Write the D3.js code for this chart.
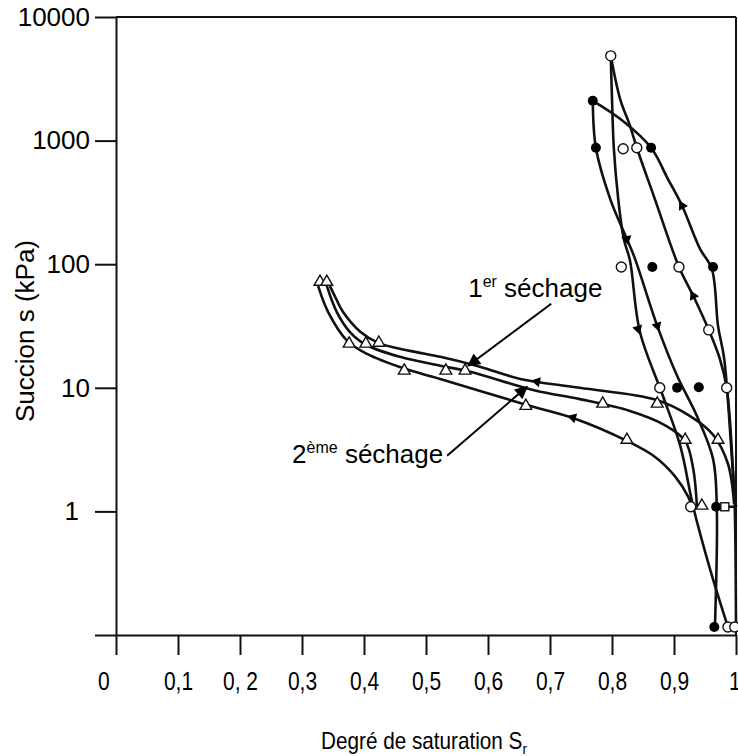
<!DOCTYPE html>
<html>
<head>
<meta charset="utf-8">
<script src="https://cdn.jsdelivr.net/npm/d3@7"></script>
<style>
  body { margin: 0; background: #fff; }
  svg text { font-family: "Liberation Sans", Arial, sans-serif; fill: #000; }
</style>
</head>
<body>
<svg id="chart" width="738" height="756"></svg>
<script>

// tick values / labels
var xTicks = [0, 0.1, 0.2, 0.3, 0.4, 0.5, 0.6, 0.7, 0.8, 0.9, 1];
var xTickLabels = ["0", "0,1", "0, 2", "0,3", "0,4", "0,5", "0,6", "0,7", "0,8", "0,9", "1"];
var yTicks = [10000, 1000, 100, 10, 1, 0.1];
var yTickLabels = ["10000", "1000", "100", "10", "1", ""];

// triangle curves (sechage), [Sr, succion kPa]
var curveTop = [[0.345,66.8],[0.355,52.5],[0.366,41.2],[0.394,28.4],[0.423,23.1],[0.474,19.9],[0.523,17.8],
  [0.587,14.8],[0.652,11.8],[0.748,10.0],[0.871,8.0],[0.926,5.9],[0.963,4.17],[0.987,2.43],[0.997,1.15]];
var curveMid = [[0.340,66.8],[0.356,41.2],[0.377,28.4],[0.403,22.3],[0.458,17.8],[0.523,15.1],[0.571,13.5],
  [0.676,9.5],[0.748,8.1],[0.829,6.5],[0.885,5.0],[0.918,3.72],[0.931,2.21],[0.937,1.09]];
var curveLow = [[0.326,66.8],[0.342,41.2],[0.373,24.0],[0.405,18.8],[0.465,14.3],[0.523,11.8],[0.661,7.3],
  [0.737,5.7],[0.824,3.72],[0.869,2.77],[0.902,1.91],[0.923,1.31],[0.929,1.09]];

// circle loops
var openLeft = [[0.798,4850],[0.800,2180],[0.803,860],[0.810,338],[0.819,160],[0.829,107],[0.845,28.4],
  [0.881,8.9],[0.910,3.40],[0.931,1.09],[0.958,0.343],[0.987,0.116]];
var openRight = [[0.798,4850],[0.813,2180],[0.829,1318],[0.840,875],[0.869,338],[0.908,95],[0.931,55.5],
  [0.956,29.4],[0.974,17.1],[0.985,10.0],[0.995,2.21],[0.998,1.09],[1.0,0.116]];
var filledLeft = [[0.769,2100],[0.774,875],[0.797,338],[0.824,160],[0.837,111],[0.873,31.7],[0.905,12.5],
  [0.937,5.9],[0.963,2.66],[0.969,1.09],[0.966,0.116]];
var filledRight = [[0.769,2100],[0.813,1500],[0.863,875],[0.890,491],[0.913,297],[0.942,133],[0.961,91.8],
  [0.971,31.7],[0.981,17.1],[0.995,2.09],[1.0,1.09]];
var linkBottom = [[0.969,1.09],[1.0,1.09]];

// markers
var triPoints = [[0.329,70.6],[0.340,70.6],[0.376,22.3],[0.403,22.3],[0.424,22.7],[0.465,13.5],[0.532,13.5],
  [0.563,13.5],[0.661,7.0],[0.785,7.3],[0.873,7.3],[0.824,3.72],[0.918,3.72],[0.971,3.72],[0.945,1.09]];
var openPoints = [[0.798,4850],[0.818,860],[0.840,875],[0.815,95],[0.908,95],[0.956,29.4],[0.877,10.0],
  [0.985,10.0],[0.927,1.09],[0.987,0.116],[0.998,0.116]];
var filledPoints = [[0.769,2100],[0.774,875],[0.863,875],[0.865,95],[0.963,95],[0.905,10.0],[0.940,10.1],
  [0.968,1.09],[0.965,0.116]];
var squarePoints = [[0.982,1.09]];

// small direction arrows [Sr, s, Sr toward, s toward]
var dirArrows = [[0.679,11.2,0.65,12.0],[0.737,5.75,0.70,6.5],[0.913,297,0.89,491],[0.931,55.5,0.908,95],
  [0.842,30,0.860,15],[0.873,31.7,0.89,17],[0.824,160,0.83,110]];

// annotations: text anchor, arrow start, arrow tip
var annot1 = {text: [0.568, 54.5], from: [0.702, 47.8], to: [0.568, 15.1]};
var annot2 = {text: [0.284, 2.47], from: [0.534, 2.82], to: [0.663, 10.2]};


function drawChart(){

  var svg = d3.select("#chart");

  var x = d3.scaleLinear().domain([0, 1]).range([116, 736]);
  var y = d3.scaleLog().domain([0.1, 10000]).range([635, 17]);

  svg.append("defs").append("marker")
      .attr("id", "head")
      .attr("viewBox", "0 0 10 10")
      .attr("refX", 9).attr("refY", 5)
      .attr("markerUnits", "userSpaceOnUse")
      .attr("markerWidth", 16).attr("markerHeight", 13)
      .attr("orient", "auto")
      .append("path")
      .attr("d", "M0,0 L10,5 L0,10 z")
      .attr("fill", "#000");

  // frame top and right
  svg.append("line")
      .attr("x1", x(0)).attr("x2", x(1))
      .attr("y1", y(10000)).attr("y2", y(10000))
      .attr("stroke", "#111").attr("stroke-width", 2);
  svg.append("line")
      .attr("x1", x(1)).attr("x2", x(1))
      .attr("y1", y(10000)).attr("y2", y(0.1))
      .attr("stroke", "#111").attr("stroke-width", 2);

  // axes
  var yAxis = svg.append("g")
      .attr("transform", "translate(" + x(0) + ",0)")
      .call(d3.axisLeft(y)
        .tickValues(yTicks)
        .tickSize(21)
        .tickSizeOuter(0)
        .tickPadding(5)
        .tickFormat(function(d, i){ return yTickLabels[i]; }));
  yAxis.selectAll("text").attr("font-size", 26).style("font-family", "'Liberation Sans', Arial, sans-serif");
  yAxis.selectAll("text").filter(function(d){ return d == 1; }).attr("dx", -11);

  var xAxis = svg.append("g")
      .attr("transform", "translate(0," + y(0.1) + ")")
      .call(d3.axisBottom(x)
        .tickValues(xTicks)
        .tickSize(20)
        .tickSizeOuter(0)
        .tickPadding(17)
        .tickFormat(function(d, i){ return xTickLabels[i]; }));
  xAxis.selectAll("text")
      .attr("font-size", 25)
      .attr("transform", "scale(0.84,1)")
      .style("font-family", "'Liberation Sans', Arial, sans-serif");
  xAxis.selectAll("text").filter(function(d){ return d == 0; }).attr("dx", -15);
  xAxis.selectAll("text").filter(function(d){ return d == 1; }).attr("dx", -2);

  svg.selectAll(".domain, .tick line").attr("stroke", "#111").attr("stroke-width", 2);

  // axis titles
  svg.append("text")
      .attr("transform", "translate(34,331) rotate(-90)")
      .attr("text-anchor", "middle")
      .attr("font-size", 26)
      .text("Succion s (kPa)");

  var xt = svg.append("text")
      .attr("transform", "translate(424,749) scale(0.9,1)")
      .attr("text-anchor", "middle")
      .attr("font-size", 23);
  xt.append("tspan").text("Degré de saturation S");
  xt.append("tspan").attr("font-size", 15).attr("dy", 5).text("r");

  // curves
  var line = d3.line()
      .x(function(d){ return x(d[0]); })
      .y(function(d){ return y(d[1]); })
      .curve(d3.curveCatmullRom.alpha(0.5));

  var allCurves = [curveTop, curveMid, curveLow, openLeft, openRight, filledLeft, filledRight, linkBottom];
  svg.selectAll("path.curve")
      .data(allCurves)
      .enter().append("path")
      .attr("class", "curve")
      .attr("d", line)
      .attr("fill", "none")
      .attr("stroke", "#111")
      .attr("stroke-width", 2.6);

  // direction arrows
  svg.selectAll("path.dir")
      .data(dirArrows)
      .enter().append("path")
      .attr("class", "dir")
      .attr("d", d3.symbol(d3.symbolTriangle).size(45))
      .attr("transform", function(d){
        var a = Math.atan2(y(d[3]) - y(d[1]), x(d[2]) - x(d[0])) * 180 / Math.PI + 90;
        return "translate(" + x(d[0]) + "," + y(d[1]) + ") rotate(" + a + ")";
      })
      .attr("fill", "#000");

  // markers
  svg.selectAll("path.tri")
      .data(triPoints)
      .enter().append("path")
      .attr("class", "tri")
      .attr("d", d3.symbol(d3.symbolTriangle).size(60))
      .attr("transform", function(d){ return "translate(" + x(d[0]) + "," + (y(d[1]) - 1) + ")"; })
      .attr("fill", "#fff").attr("stroke", "#111").attr("stroke-width", 1.4);

  svg.selectAll("circle.open")
      .data(openPoints)
      .enter().append("circle")
      .attr("class", "open")
      .attr("cx", function(d){ return x(d[0]); })
      .attr("cy", function(d){ return y(d[1]); })
      .attr("r", 5)
      .attr("fill", "#fff").attr("stroke", "#111").attr("stroke-width", 1.4);

  svg.selectAll("circle.filled")
      .data(filledPoints)
      .enter().append("circle")
      .attr("class", "filled")
      .attr("cx", function(d){ return x(d[0]); })
      .attr("cy", function(d){ return y(d[1]); })
      .attr("r", 5)
      .attr("fill", "#000");

  svg.selectAll("rect.sq")
      .data(squarePoints)
      .enter().append("rect")
      .attr("class", "sq")
      .attr("x", function(d){ return x(d[0]) - 4; })
      .attr("y", function(d){ return y(d[1]) - 4; })
      .attr("width", 8).attr("height", 8)
      .attr("fill", "#fff").attr("stroke", "#111").attr("stroke-width", 1.4);

  // annotations
  [annot1, annot2].forEach(function(a){
    svg.append("line")
        .attr("x1", x(a.from[0])).attr("y1", y(a.from[1]))
        .attr("x2", x(a.to[0])).attr("y2", y(a.to[1]))
        .attr("stroke", "#000").attr("stroke-width", 2)
        .attr("marker-end", "url(#head)");
  });

  var t1 = svg.append("text")
      .attr("x", x(annot1.text[0])).attr("y", y(annot1.text[1]))
      .attr("font-size", 26);
  t1.append("tspan").text("1");
  t1.append("tspan").attr("font-size", 16).attr("dy", -10).text("er");
  t1.append("tspan").attr("dy", 10).text(" séchage");

  var t2 = svg.append("text")
      .attr("x", x(annot2.text[0])).attr("y", y(annot2.text[1]))
      .attr("font-size", 26);
  t2.append("tspan").text("2");
  t2.append("tspan").attr("font-size", 16).attr("dy", -10).text("ème");
  t2.append("tspan").attr("dy", 10).text(" séchage");
}

drawChart();

</script>
</body>
</html>
